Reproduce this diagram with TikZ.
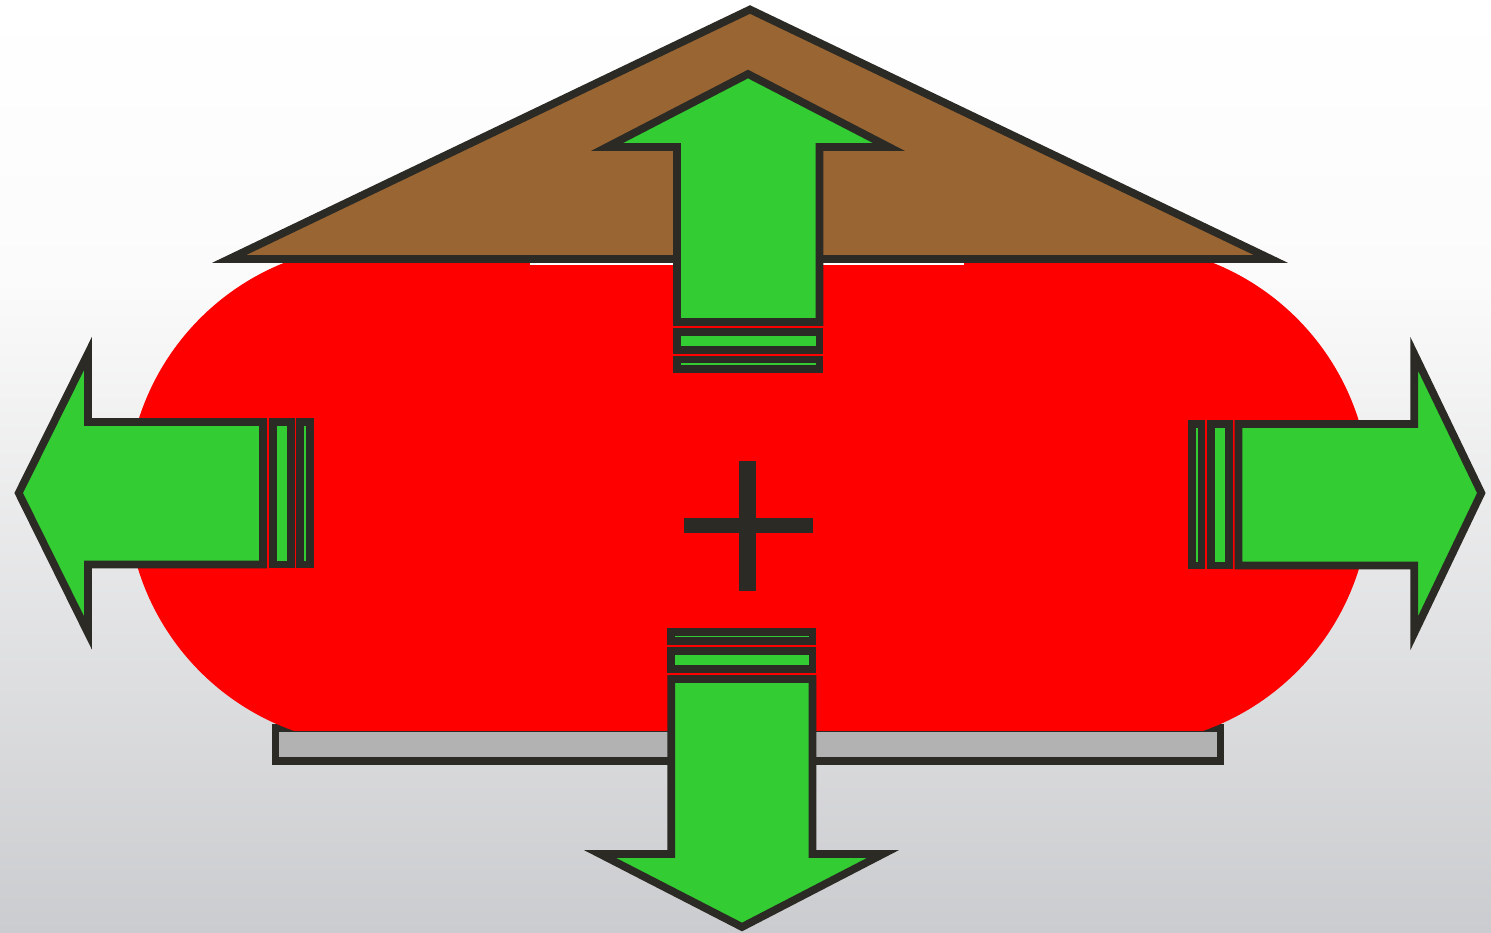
\documentclass[tikz,border=0pt]{standalone}
\definecolor{dk}{RGB}{44,42,36}
\definecolor{grn}{RGB}{51,204,51}
\definecolor{brn}{RGB}{153,102,51}
\definecolor{bargray}{RGB}{178,178,178}
\definecolor{bgA}{RGB}{255,255,255}
\definecolor{bgB}{RGB}{251,251,251}
\definecolor{bgC}{RGB}{236,236,237}
\definecolor{bgD}{RGB}{203,204,207}
\tikzset{
  stk/.style={draw=dk, line width=7.7pt, line join=miter},
  grnshape/.style={stk, fill=grn},
}
\begin{document}
\begin{tikzpicture}[x=1pt,y=-1pt]
\useasboundingbox (0,0) rectangle (1491,932);
% background
\fill[top color=bgA, bottom color=bgB] (0,0) rectangle (1491,281);
\fill[top color=bgB, middle color=bgC, bottom color=bgD] (0,280) rectangle (1491,932);
% gray bar (under the red body)
\filldraw[stk, fill=bargray] (275.5,728) rectangle (1220.5,760.7);
% red body
\begin{scope}
\clip (0,0) rectangle (1491,730);
\fill[red] (377,495) circle[radius=250pt];
\fill[red] (1120,495) circle[radius=250pt];
\fill[red] (377,245) rectangle (1120,745);
\end{scope}
\draw[white, line width=1.7pt] (530,264) -- (964,264);
% roof
\filldraw[stk, fill=brn] (750,9.5) -- (1271,259) -- (229,259) -- cycle;
% top arrow
\filldraw[grnshape] (748,74) -- (889,147) -- (819.5,147) -- (819.5,322) -- (677,322) -- (677,147) -- (607,147) -- cycle;
\filldraw[grnshape] (677,332) rectangle (819.5,350);
\filldraw[grnshape] (677,359.5) rectangle (819.5,368.7);
% bottom arrow
\filldraw[grnshape] (742,927) -- (883,854) -- (812.4,854) -- (812.4,679) -- (671.2,679) -- (671.2,854) -- (600,854) -- cycle;
\filldraw[grnshape] (671.2,651.3) rectangle (812.4,668.8);
\filldraw[grnshape] (671.2,632.2) rectangle (812.4,641.3);
% left arrow
\filldraw[grnshape] (18.7,493) -- (88,353.4) -- (88,422) -- (263,422) -- (263,564.5) -- (88,564.5) -- (88,633) -- cycle;
\filldraw[grnshape] (272.9,422) rectangle (290.8,564.5);
\filldraw[grnshape] (300.3,422) rectangle (309.8,564.5);
% right arrow
\filldraw[grnshape] (1481.3,493) -- (1414.3,354) -- (1414.3,424) -- (1238.5,424) -- (1238.5,565.5) -- (1414.3,565.5) -- (1414.3,633) -- cycle;
\filldraw[grnshape] (1210.8,424) rectangle (1229,565.5);
\filldraw[grnshape] (1192.2,424) rectangle (1201.5,565.5);
% plus sign
\fill[dk] (739.3,461.3) rectangle (756,590.7);
\fill[dk] (683.7,518) rectangle (812.7,532.7);
\end{tikzpicture}
\end{document}
